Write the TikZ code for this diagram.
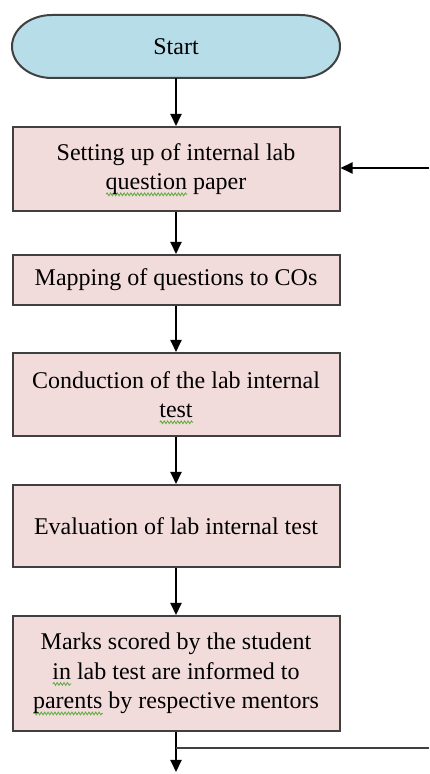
\documentclass[tikz,border=0pt]{standalone}
\usepackage{fontspec}
\setmainfont{Liberation Serif}
\usetikzlibrary{arrows.meta,decorations.pathmorphing}
\definecolor{termfill}{HTML}{B7DDE8}
\definecolor{boxfill}{HTML}{F2DCDB}
\definecolor{edge}{HTML}{404040}
\definecolor{squig}{HTML}{5BAA3C}
% green wavy underline, as left by a spell checker
\newlength\squigwd
\newcommand\spellmark[1]{\settowidth\squigwd{#1}%
  \rlap{\raisebox{-6.5pt}[0pt][0pt]{\tikz[x=1pt,y=1pt]\draw[squig,line width=0.8pt,
    decorate,decoration={snake,amplitude=1.4pt,segment length=3.4pt}] (0,0) -- (\squigwd,0);}}#1}
\tikzset{
  stepbox/.style={draw=edge, line width=2pt, fill=boxfill, minimum width=327pt,
    inner sep=0pt, align=center, font=\fontsize{24}{29.5}\selectfont},
  flow/.style={line width=2pt, -{Triangle[length=12pt,width=11pt]}},
  plain/.style={line width=2pt, draw=edge}
}
\begin{document}
\begin{tikzpicture}[x=1pt,y=1pt]
\useasboundingbox (0,0) rectangle (429,774);
% terminator with elliptical ends
\filldraw[draw=edge, line width=2pt, fill=termfill]
  (52,759) -- (300,759) arc[start angle=90, end angle=-90, x radius=40, y radius=31.5]
  -- (52,696) arc[start angle=270, end angle=90, x radius=40, y radius=31.5] -- cycle;
\node[minimum width=328pt, minimum height=63pt, inner sep=0pt,
  font=\fontsize{24}{29.5}\selectfont] (start) at (176,727.5) {Start};

\node[stepbox, minimum height=84pt] (b1) at (176,605)
  {Setting up of internal lab\\\spellmark{question} paper};
\node[stepbox, minimum height=50pt] (b2) at (176,494)
  {Mapping of questions to COs};
\node[stepbox, minimum height=83pt] (b3) at (176,379.5)
  {Conduction of the lab internal\\\spellmark{test}};
\node[stepbox, minimum height=82pt] (b4) at (176,248)
  {Evaluation of lab internal test};
\node[stepbox, minimum height=115pt] (b5) at (176,100.5)
  {Marks scored by the student\\\spellmark{in} lab test are informed to\\\spellmark{parents} by respective mentors};

\coordinate (endpt) at (176,2);
\coordinate (loopout) at (429,26);
\coordinate (loopin) at (429,606);

\draw[flow] (start) -- (b1);
\draw[flow] (b1) -- (b2);
\draw[flow] (b2) -- (b3);
\draw[flow] (b3) -- (b4);
\draw[flow] (b4) -- (b5);
\draw[flow] (b5) -- (endpt);
\draw[plain] (b5.south |- loopout) -- (loopout);
\draw[flow] (loopin) -- (b1.east |- loopin);
\end{tikzpicture}
\end{document}
